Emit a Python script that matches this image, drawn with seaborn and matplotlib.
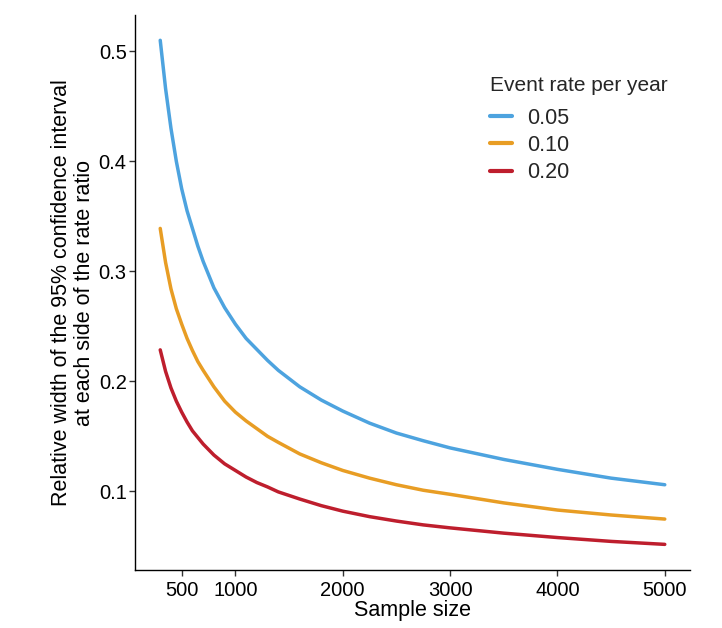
import matplotlib
matplotlib.use("Agg")
import matplotlib.pyplot as plt
import seaborn as sns
import pandas as pd

sample_size = [300, 350, 400, 450, 500, 550, 600, 650, 700, 800, 900, 1000,
               1100, 1200, 1300, 1400, 1600, 1800, 2000, 2250, 2500, 2750,
               3000, 3500, 4000, 4500, 5000]
width_005 = [0.510, 0.466, 0.430, 0.400, 0.375, 0.355, 0.339, 0.323, 0.309,
             0.285, 0.267, 0.252, 0.239, 0.229, 0.219, 0.210, 0.195, 0.183,
             0.173, 0.162, 0.153, 0.146, 0.1395, 0.129, 0.120, 0.112, 0.106]
width_010 = [0.339, 0.308, 0.284, 0.266, 0.252, 0.239, 0.228, 0.218, 0.210,
             0.195, 0.182, 0.172, 0.164, 0.157, 0.150, 0.1445, 0.134, 0.126,
             0.119, 0.112, 0.106, 0.101, 0.0973, 0.0895, 0.083, 0.0785, 0.0748]
width_020 = [0.2286, 0.209, 0.194, 0.182, 0.172, 0.163, 0.155, 0.149, 0.143,
             0.133, 0.125, 0.119, 0.113, 0.108, 0.104, 0.0995, 0.093, 0.087,
             0.082, 0.077, 0.073, 0.0695, 0.0668, 0.062, 0.058, 0.0545, 0.0518]
rate_labels = ["0.05", "0.10", "0.20"]
yticks = [0.1, 0.2, 0.3, 0.4, 0.5]
xticks = [500, 1000, 2000, 3000, 4000, 5000]

rows = []
for lab, vals in zip(rate_labels, [width_005, width_010, width_020]):
    for n, v in zip(sample_size, vals):
        rows.append({"Sample size": n, "width": v, "rate": lab})
df = pd.DataFrame(rows)

sns.set_theme(style="white")
plt.rcParams["font.family"] = ["Liberation Sans", "DejaVu Sans"]

fig = plt.figure(figsize=(7.22, 6.28), dpi=100)
ax = fig.add_axes([135 / 722, 1 - 570 / 628, 555 / 722, 555 / 628])

palette = {"0.05": "#4DA3DF", "0.10": "#E89D24", "0.20": "#BE1E2D"}
sns.lineplot(data=df, x="Sample size", y="width", hue="rate", palette=palette,
             linewidth=2.5, ax=ax, hue_order=rate_labels)

ax.set_xlim(65, 5235)
ax.set_ylim(0.0285, 0.533)
ax.set_xticks(xticks)
ax.set_xticklabels([str(t) for t in xticks])
ax.set_yticks(yticks)
ax.set_yticklabels([f"{t:.1f}" for t in yticks])
ax.tick_params(axis="both", which="major", direction="out", length=4, width=1,
               color="#333333", labelsize=14.5, labelcolor="black", pad=2,
               bottom=True, left=True)
ax.tick_params(axis="x", pad=4)
for s in ["top", "right"]:
    ax.spines[s].set_visible(False)
for s in ["left", "bottom"]:
    ax.spines[s].set_color("black")
    ax.spines[s].set_linewidth(1.0)

ax.set_xlabel("Sample size", fontsize=15.5, color="black", labelpad=0)
ax.set_ylabel("Relative width of the 95% confidence interval\nat each side of the rate ratio",
              fontsize=15.5, color="black", labelpad=3, linespacing=1.1)

leg = ax.legend(title="Event rate per year", loc="upper left",
                bbox_to_anchor=(0.605, 0.925), frameon=False, fontsize=15.5,
                title_fontsize=15, handlelength=1.0, handletextpad=0.7,
                labelspacing=0.3, alignment="left")
leg._legend_box.sep = 9
for line in leg.get_lines():
    line.set_linewidth(3)

fig.savefig("out.png", dpi=100)
